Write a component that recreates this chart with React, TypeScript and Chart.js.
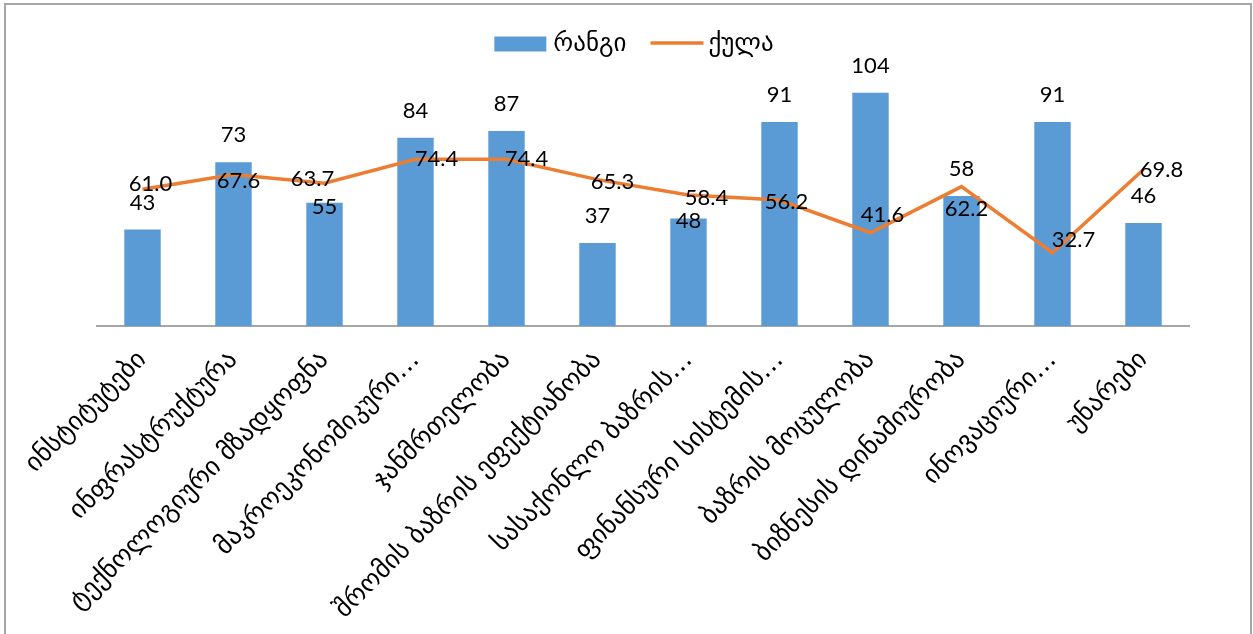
import React, { useEffect, useRef } from "react";
import { Chart, registerables } from "chart.js";

Chart.register(...registerables);

const categories = [
  "ინსტიტუტები",
  "ინფრასტრუქტურა",
  "ტექნოლოგიური მზადყოფნა",
  "მაკროეკონომიკური…",
  "ჯანმრთელობა",
  "შრომის ბაზრის ეფექტიანობა",
  "სასაქონლო ბაზრის…",
  "ფინანსური სისტემის…",
  "ბაზრის მოცულობა",
  "ბიზნესის დინამიურობა",
  "ინოვაციური…",
  "უნარები",
];

const rankValues = [43, 73, 55, 84, 87, 37, 48, 91, 104, 58, 91, 46];
const scoreValues = [61.0, 67.6, 63.7, 74.4, 74.4, 65.3, 58.4, 56.2, 41.6, 62.2, 32.7, 69.8];

const rankLabel = "რანგი";
const scoreLabel = "ქულა";

// label placement (style only)
const rankLabelDy = [-27, -27, 4, -27, -27, -27, 3, -27, -27, -27, -27, -27];
const scoreLabelOffsets: [number, number][] = [
  [8, -5], [5, 6], [-12, -4], [21, 0], [20, 0], [15, 2],
  [18, 3], [7, 2], [12, -18], [5, 22], [21, -13], [18, 0],
];

const BLUE = "#5B9BD5";
const ORANGE = "#ED7D31";
const FONT = "Lato, 'DejaVu Sans', sans-serif";
const TICK_FONT = "'DejaVu Sans', sans-serif";

const labelPlugin = {
  id: "valueLabels",
  afterDatasetsDraw(chart: any) {
    const ctx = chart.ctx;
    ctx.save();
    ctx.font = `22px ${FONT}`;
    ctx.fillStyle = "#000";
    ctx.textAlign = "center";
    ctx.textBaseline = "middle";
    const barMeta = chart.getDatasetMeta(1);
    barMeta.data.forEach((el: any, i: number) => {
      ctx.fillText(String(rankValues[i]), el.x, el.y + rankLabelDy[i]);
    });
    const lineMeta = chart.getDatasetMeta(0);
    lineMeta.data.forEach((el: any, i: number) => {
      const [dx, dy] = scoreLabelOffsets[i];
      ctx.fillText(scoreValues[i].toFixed(1), el.x + dx, el.y + dy);
    });
    ctx.restore();
  },
};

const legendPlugin = {
  id: "customLegend",
  afterDraw(chart: any) {
    const ctx = chart.ctx;
    ctx.save();
    ctx.font = `25px ${TICK_FONT}`;
    ctx.textBaseline = "middle";
    ctx.textAlign = "left";
    const y = 44;
    const w1 = ctx.measureText(rankLabel).width;
    const w2 = ctx.measureText(scoreLabel).width;
    const total = 52 + 7 + w1 + 24 + 53 + 5 + w2;
    let x = 634 - total / 2;
    ctx.fillStyle = BLUE;
    ctx.fillRect(x, y - 7.5, 52, 15);
    x += 59;
    ctx.fillStyle = "#000";
    ctx.fillText(rankLabel, x, y);
    x += w1 + 24;
    ctx.strokeStyle = ORANGE;
    ctx.lineWidth = 3.5;
    ctx.beginPath();
    ctx.moveTo(x, y - 1);
    ctx.lineTo(x + 53, y - 1);
    ctx.stroke();
    x += 58;
    ctx.fillText(scoreLabel, x, y);
    ctx.restore();
  },
};

export default function App() {
  const ref = useRef<HTMLCanvasElement | null>(null);
  useEffect(() => {
    if (!ref.current) return;
    const chart = new Chart(ref.current, {
      type: "bar",
      data: {
        labels: categories,
        datasets: [
          {
            type: "line",
            label: scoreLabel,
            data: scoreValues,
            borderColor: ORANGE,
            backgroundColor: ORANGE,
            borderWidth: 3.5,
            pointRadius: 0,
            tension: 0,
            order: 1,
          } as any,
          {
            type: "bar",
            label: rankLabel,
            data: rankValues,
            backgroundColor: BLUE,
            barPercentage: 0.4,
            categoryPercentage: 1,
            order: 2,
          },
        ],
      },
      options: {
        animation: false,
        responsive: false,
        layout: { padding: { left: 97, right: 64, top: 57, bottom: 0 } },
        plugins: {
          legend: { display: false },
          tooltip: { enabled: false },
        },
        scales: {
          x: {
            grid: { display: false },
            border: { display: true, color: "#a6a6a6", width: 2 },
            ticks: {
              autoSkip: false,
              maxRotation: 45,
              minRotation: 45,
              color: "#000",
              font: { family: TICK_FONT, size: 26 },
              padding: 11,
            },
            afterFit: (s: any) => {
              s.height = 308;
            },
          },
          y: {
            display: false,
            min: 0,
            max: 120,
          },
        },
      },
      plugins: [labelPlugin, legendPlugin],
    });
    return () => chart.destroy();
  }, []);
  return (
    <div style={{ position: "absolute", left: 0, top: 0, width: 1253, height: 634, overflow: "hidden", background: "#fff" }}>
      <canvas ref={ref} width={1253} height={634} style={{ display: "block" }} />
      <div
        style={{
          position: "absolute",
          left: 4,
          top: 3,
          width: 1248,
          height: 700,
          border: "2px solid #a6a6a6",
          boxSizing: "border-box",
          pointerEvents: "none",
        }}
      />
    </div>
  );
}
